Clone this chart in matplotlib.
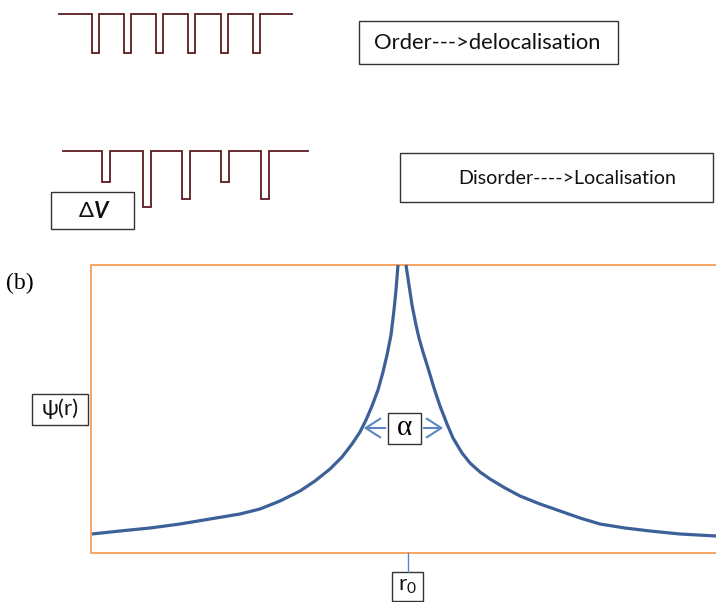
import matplotlib.pyplot as plt
from matplotlib.patches import Rectangle, FancyArrowPatch
import numpy as np

plt.rcParams['font.family'] = ['Lato', 'DejaVu Sans']
plt.rcParams['mathtext.fontset'] = 'custom'
plt.rcParams['mathtext.rm'] = 'Lato'

# ordered potential: constant level with identical wells
ord_level = 14
ord_start, ord_end = 59, 292
ord_wells = [92, 124, 156, 188, 221, 253]
ord_width = 7
ord_depth = [39, 39, 39, 39, 39, 39]

# disordered potential: same level, wells of random depth
dis_level = 151
dis_start, dis_end = 63, 308
dis_wells = [102, 143, 182, 221, 261]
dis_width = 8
dis_depth = [31, 56, 48, 31, 48]

# localised wavefunction (pixel coords)
left_x = [92, 120, 150, 180, 210, 240, 260, 280, 300, 315, 330, 342, 352, 360,
          366, 372, 378, 383, 387, 391, 394, 396, 398]
left_y = [534, 531, 528, 524, 519, 514, 509, 501, 491, 481, 469, 457, 444, 432,
          420, 406, 390, 372, 355, 335, 310, 290, 265]
right_x = [406, 409, 412, 416, 419, 423, 428, 434, 440, 447, 453, 462, 470, 480,
           490, 505, 520, 540, 560, 580, 600, 625, 650, 680, 716]
right_y = [265, 285, 305, 325, 338, 352, 368, 388, 406, 424, 438, 453, 463, 472,
           479, 488, 496, 504, 511, 518, 524, 528, 531, 534, 536]

maroon = '#5a1a1f'
curve_blue = '#3c6098'
arrow_blue = '#5b86c4'
orange = '#f8a460'


def step_profile(start, end, level, wells, width, depths):
    xs, ys = [start], [level]
    for w, d in zip(wells, depths):
        xs += [w, w, w + width, w + width]
        ys += [level, level + d, level + d, level]
    xs.append(end)
    ys.append(level)
    return xs, ys


def boxed(ax, x0, y0, x1, y1):
    ax.add_patch(Rectangle((x0, y0), x1 - x0, y1 - y0, fill=False,
                           edgecolor='#333333', linewidth=1.0))


fig = plt.figure(figsize=(7.16, 6.02), dpi=100)
ax = fig.add_axes([0, 0, 1, 1])
ax.set_xlim(0, 716)
ax.set_ylim(602, 0)
ax.axis('off')

# potentials
xs, ys = step_profile(ord_start, ord_end, ord_level, ord_wells, ord_width, ord_depth)
ax.plot(xs, ys, color=maroon, lw=1.3, solid_joinstyle='miter')
xs, ys = step_profile(dis_start, dis_end, dis_level, dis_wells, dis_width, dis_depth)
ax.plot(xs, ys, color=maroon, lw=1.3, solid_joinstyle='miter')

# labels for the potentials
boxed(ax, 359, 21, 618, 64)
ax.text(487, 43, 'Order--->delocalisation', fontsize=15.8, ha='center', va='center', color='#111111')
boxed(ax, 400, 153, 713, 202)
ax.text(567, 178, 'Disorder---->Localisation', fontsize=14.1, ha='center', va='center', color='#111111')
boxed(ax, 51, 192, 134, 229)
ax.text(94, 211, 'Δ', fontsize=16, ha='right', va='center', color='#111111')
ax.text(94, 211, 'V', fontsize=16, ha='left', va='center', color='#111111',
        weight='bold', style='italic')

# panel (b)
ax.text(6, 283, '(b)', fontsize=17, ha='left', va='center', family='Liberation Serif')
ax.plot([716, 91, 91, 716], [265, 265, 553, 553], color=orange, lw=1.4)

ax.plot(left_x, left_y, color=curve_blue, lw=2.3, solid_capstyle='butt')
ax.plot(right_x, right_y, color=curve_blue, lw=2.3, solid_capstyle='butt')

# width alpha
for x_from, x_to in [(388, 361), (421, 446)]:
    ax.add_patch(FancyArrowPatch((x_from, 428), (x_to, 428), arrowstyle='->,head_length=7,head_width=4.5',
                                 color=arrow_blue, lw=1.5, mutation_scale=1.5))
boxed(ax, 388, 413, 421, 444)
ax.text(404.5, 428, 'α', fontsize=21, ha='center', va='center', family='Liberation Serif')

# axis labels
boxed(ax, 32, 394, 88, 425)
ax.text(60, 409, 'ψ(r)', fontsize=16, ha='center', va='center', color='#111111')
ax.plot([408, 408], [553, 572], color=arrow_blue, lw=1.0)
boxed(ax, 392, 572, 423, 601)
ax.text(407.5, 586, r'r$_\mathregular{0}$', fontsize=16, ha='center', va='center', color='#111111')

fig.savefig('out.png', dpi=100)
